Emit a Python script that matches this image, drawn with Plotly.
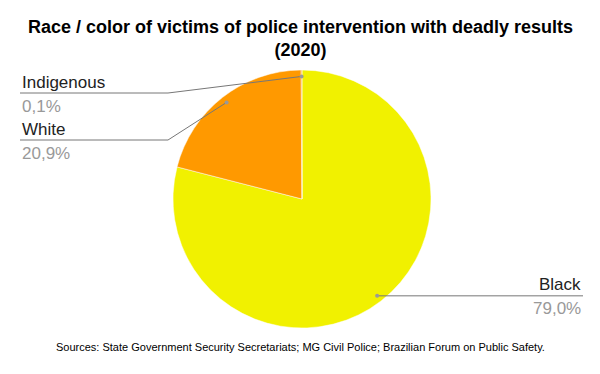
import math
import plotly.graph_objects as go

categories = ["Black", "White", "Indigenous"]
values = [79.0, 20.9, 0.1]
value_labels = ["79,0%", "20,9%", "0,1%"]
colors = ["#f1f100", "#ff9900", "#ff9900"]

W, H = 600, 374
cx, cy, R = 302, 199, 129  # pixel centre (from top) and radius

fig = go.Figure()
fig.add_trace(go.Pie(
    labels=categories, values=values, sort=False, direction="clockwise", rotation=0,
    marker=dict(colors=colors, line=dict(color="white", width=0.5)),
    textinfo="none", hoverinfo="label+percent", showlegend=False,
    domain=dict(x=[(cx - R) / W, (cx + R) / W], y=[(H - cy - R) / H, (H - cy + R) / H]),
))

def px(x, y):
    return x / W, 1 - y / H

shapes = []
annotations = []
total = sum(values)
cum = 0
placement = {
    "Black": (None, None, 583, "right"),
    "White": (168, 140, 20, "left"),
    "Indigenous": (168, 93, 20, "left"),
}
lab_font = "Liberation Sans, Arial"
for cat, v, lab in zip(categories, values, value_labels):
    mid = (cum + v / 2) / total * 2 * math.pi
    cum += v
    dx = 0.95 * R * math.sin(mid)
    dy = 0.95 * R * math.cos(mid)
    ax, ay = cx + dx, cy - dy
    ex, ly, endx, side = placement[cat]
    if ly is None:
        ly = ay
    pts = [(ax, ay)]
    if ex is not None:
        pts.append((ex, ly))
    pts.append((endx, ly))
    for (x0, y0), (x1, y1) in zip(pts[:-1], pts[1:]):
        a0 = px(x0, y0); a1 = px(x1, y1)
        shapes.append(dict(type="line", xref="paper", yref="paper", x0=a0[0], y0=a0[1],
                           x1=a1[0], y1=a1[1], line=dict(color="#777777", width=1)))
    shapes.append(dict(type="circle", xref="paper", yref="paper",
                       x0=(ax - 2) / W, x1=(ax + 2) / W, y0=1 - (ay + 2) / H, y1=1 - (ay - 2) / H,
                       fillcolor="#999999", line=dict(width=0)))
    xa = "right" if side == "right" else "left"
    tx = endx / W
    annotations.append(dict(x=tx, y=1 - (ly - 11) / H, xref="paper", yref="paper", text=cat,
                            showarrow=False, xanchor=xa, yanchor="middle",
                            font=dict(family=lab_font, size=17, color="#222222")))
    annotations.append(dict(x=tx, y=1 - (ly + 13) / H, xref="paper", yref="paper", text=lab,
                            showarrow=False, xanchor=xa, yanchor="middle",
                            font=dict(family=lab_font, size=17, color="#999999")))

annotations.append(dict(x=0.5, y=1 - 39 / H, xref="paper", yref="paper",
                        text="<b>Race / color of victims of police intervention with deadly results<br>(2020)</b>",
                        showarrow=False, xanchor="center", yanchor="middle",
                        font=dict(family="Liberation Sans Narrow, Arial Narrow, Liberation Sans", size=18, color="#000000")))
annotations.append(dict(x=0.5, y=1 - 347 / H, xref="paper", yref="paper",
                        text="Sources: State Government Security Secretariats; MG Civil Police; Brazilian Forum on Public Safety.",
                        showarrow=False, xanchor="center", yanchor="middle",
                        font=dict(family="Liberation Sans Narrow, Arial Narrow, Liberation Sans", size=11, color="#000000")))

fig.update_layout(width=W, height=H, margin=dict(l=0, r=0, t=0, b=0),
                  paper_bgcolor="white", plot_bgcolor="white",
                  shapes=shapes, annotations=annotations)
fig.write_html("out.html", config={"displayModeBar": False},
               post_script="document.body.style.margin='0';")
